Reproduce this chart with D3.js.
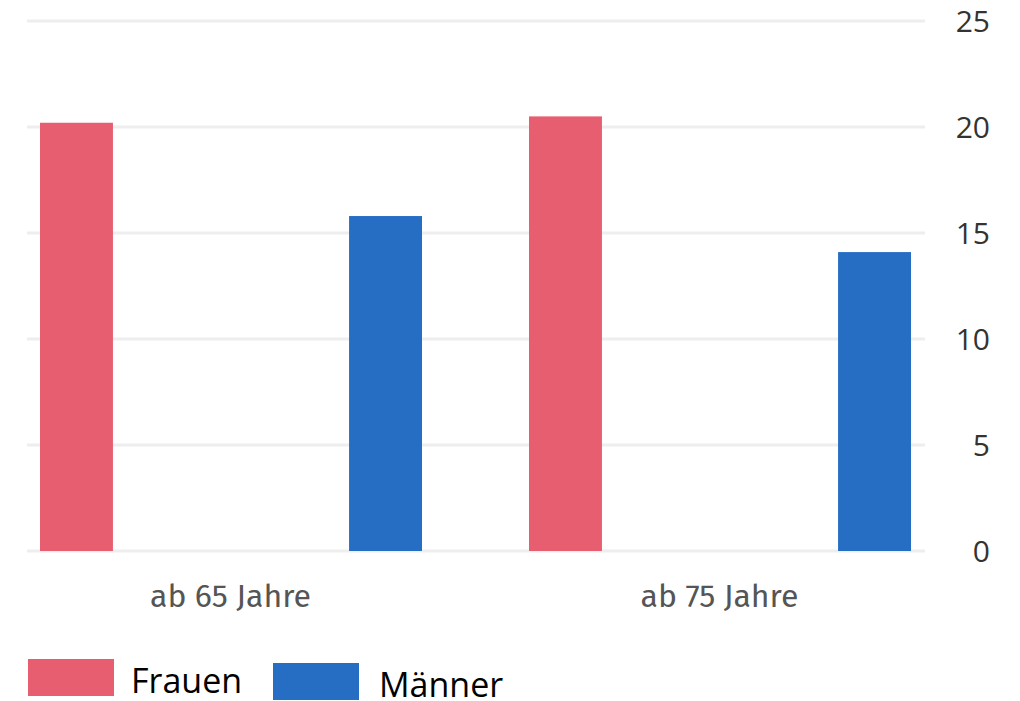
<!DOCTYPE html>
<html>
<head>
<meta charset="utf-8">
<script src="https://cdn.jsdelivr.net/npm/d3@7"></script>
<style>
  body { margin: 0; background: #fff; }
  svg { display: block; }
</style>
</head>
<body>
<svg id="chart" width="1020" height="701"></svg>
<script>
// Data
var categories = ['ab 65 Jahre', 'ab 75 Jahre'];
var series = ['Frauen', 'Männer'];
var frauen = [20.2, 20.5];
var maenner = [15.8, 14.1];
var yTicks = [0, 5, 10, 15, 20, 25];
var colors = ['#e65e70', '#266ec3'];

var svg = d3.select('#chart');

// scales
var y = d3.scaleLinear().domain([0, 25]).range([551, 21]);
var x0 = d3.scaleBand().domain(categories).range([-14, 964]).paddingInner(0);
var x1 = d3.scaleBand().domain(series).range([54, 436]).paddingInner(0.764).paddingOuter(0);

// gridlines
svg.append('g').selectAll('line')
  .data(yTicks)
  .enter().append('line')
  .attr('x1', 27).attr('x2', 925)
  .attr('y1', function(d) { return y(d); })
  .attr('y2', function(d) { return y(d); })
  .attr('stroke', '#eeeeee')
  .attr('stroke-width', 3);

// y axis on the right
var yAxis = svg.append('g')
  .attr('transform', 'translate(990,0)')
  .call(d3.axisRight(y).tickValues(yTicks).tickSize(0).tickPadding(0));
yAxis.select('.domain').remove();
yAxis.selectAll('text')
  .attr('text-anchor', 'end')
  .attr('dy', '0.36em')
  .style('font-family', '"Open Sans", "Noto Sans", sans-serif')
  .style('font-size', '30px')
  .style('fill', '#333');

// bars
var rows = categories.map(function(c, i) {
  return { cat: c, values: [frauen[i], maenner[i]] };
});
var groups = svg.append('g').selectAll('g')
  .data(rows)
  .enter().append('g')
  .attr('transform', function(d) { return 'translate(' + x0(d.cat) + ',0)'; });
groups.selectAll('rect')
  .data(function(d) { return d.values.map(function(v, j) { return { s: series[j], v: v, j: j }; }); })
  .enter().append('rect')
  .attr('x', function(d) { return x1(d.s); })
  .attr('width', x1.bandwidth())
  .attr('y', function(d) { return y(d.v); })
  .attr('height', function(d) { return y(0) - y(d.v); })
  .attr('fill', function(d) { return colors[d.j]; });

// category labels
var xAxis = svg.append('g')
  .attr('transform', 'translate(0,' + 551 + ')')
  .call(d3.axisBottom(x0).tickSize(0).tickPadding(0));
xAxis.select('.domain').remove();
xAxis.selectAll('text')
  .attr('dy', '0')
  .attr('y', 56)
  .style('font-family', '"Fira Sans", "Noto Sans", sans-serif')
  .style('font-size', '32px')
  .style('fill', '#555');

// legend
var legend = svg.append('g');
var legendPos = [{ x: 28, y: 659, tx: 131 }, { x: 273, y: 663, tx: 379 }];
series.forEach(function(s, i) {
  legend.append('rect')
    .attr('x', legendPos[i].x).attr('y', legendPos[i].y)
    .attr('width', 86).attr('height', 37)
    .attr('fill', colors[i]);
  legend.append('text')
    .attr('x', legendPos[i].tx).attr('y', legendPos[i].y + 34)
    .style('font-family', '"Open Sans", "Noto Sans", sans-serif')
    .style('font-size', '34px')
    .style('fill', '#000')
    .text(s);
});
</script>
</body>
</html>
